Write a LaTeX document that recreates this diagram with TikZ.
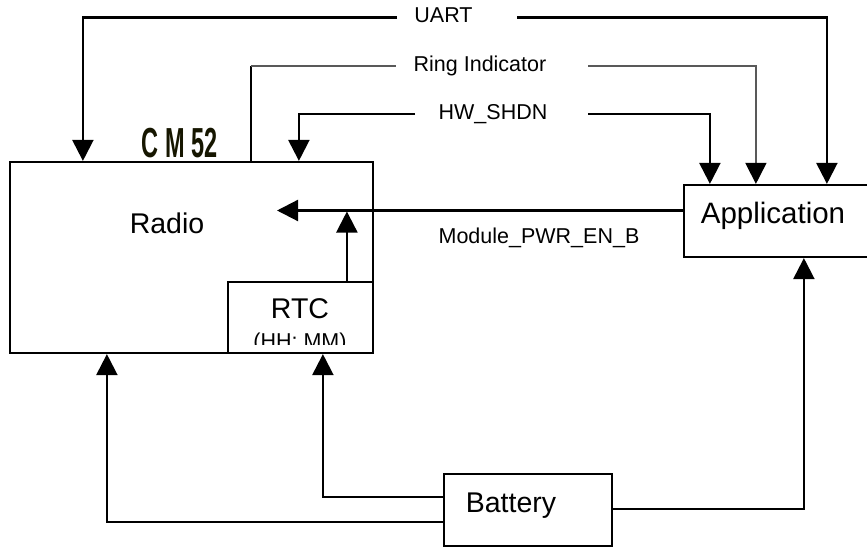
\documentclass[tikz,border=0pt]{standalone}
\usepackage{fontspec}
\setmainfont{Liberation Sans}
\usetikzlibrary{arrows.meta}
\tikzset{
  wire/.style={line width=2.2pt, draw=black},
  thinwire/.style={line width=1.6pt, draw=black!65},
  arr/.style={-{Triangle[length=21pt,width=21pt,black]}},
  blk/.style={draw, line width=2.2pt, rectangle, inner sep=0pt},
  big/.style={inner sep=0pt, font=\fontsize{28.5}{30}\selectfont},
  small/.style={inner sep=0pt, font=\fontsize{21.5}{24}\selectfont},
}
\definecolor{cmcol}{RGB}{22,22,0}
\begin{document}
\begin{tikzpicture}[x=1pt,y=-1pt]
\useasboundingbox (0,0) rectangle (867,548);
% blocks
\node[blk, minimum width=363pt, minimum height=191pt] (radio) at (191.5,257.5) {};
\node[blk, minimum width=145pt, minimum height=71pt] (rtc) at (300.5,317.5) {};
\node[blk, minimum width=188pt, minimum height=72pt] (app) at (778,221) {};
\node[blk, minimum width=168pt, minimum height=72pt] (battery) at (528,510) {};
% texts
\node[big, anchor=base] (radiotxt) at (167,233.5) {Radio};
\node[big, anchor=base] (rtctxt) at (300,318) {RTC};
\begin{scope}
  \clip (228,282) rectangle (373,344);
  \node[small, anchor=base] (rtcsub) at (300,348) {(HH: MM)};
\end{scope}
\node[big, anchor=base, font=\fontsize{29.5}{31}\selectfont] (apptxt) at (773,223) {Application};
\node[big, anchor=base] (battxt) at (511,512) {Battery};
\node[anchor=base, inner sep=0pt, text=cmcol, xscale=0.56,
      font=\fontsize{42}{44}\selectfont\bfseries] (cm52) at (179.5,158) {C M 52};
\node[small, anchor=base] (uart) at (443.5,23) {UART};
\node[small, anchor=base] (ring) at (480,72) {Ring Indicator};
\node[small, anchor=base] (hw) at (493,120) {HW\_SHDN};
\node[small, anchor=base] (pwr) at (539,243) {Module\_PWR\_EN\_B};
% gap end points of the labelled lines
\coordinate (uartL) at (397,17.5);
\coordinate (uartR) at (517,17.5);
\coordinate (ringL) at (396,66);
\coordinate (ringR) at (588,66);
\coordinate (hwL) at (415,114);
\coordinate (hwR) at (588,114);
\coordinate (pwrtip) at (277,210.5);
\coordinate (uartA) at ([xshift=74pt]radio.north west);
\coordinate (uartB) at ([xshift=144pt]app.north west);
\coordinate (ringA) at ([xshift=242pt]radio.north west);
\coordinate (ringB) at ([xshift=73pt]app.north west);
\coordinate (hwA) at ([xshift=290pt]radio.north west);
\coordinate (hwB) at ([xshift=27pt]app.north west);
% UART
\draw[wire, arr] (uartL) -| (uartA);
\draw[wire, arr] (uartR) -| (uartB);
% Ring indicator
\draw[wire] (ringA) -- (ringA |- ringL);
\draw[thinwire] (ringA |- ringL) -- (ringL);
\draw[thinwire, arr] (ringR) -| (ringB);
% HW_SHDN
\draw[wire, arr] (hwL) -| (hwA);
\draw[wire, arr] (hwR) -| (hwB);
% Module_PWR_EN_B
\draw[wire, arr] (app.west |- pwrtip) -- (pwrtip);
\coordinate (rtcup) at ([xshift=120pt]rtc.north west);
\draw[wire, arr] (rtcup) -- ([yshift=-1pt]rtcup |- pwrtip);
% Battery
\draw[wire, arr] ([yshift=13pt]battery.west) -| ([xshift=96pt]rtc.south west);
\draw[wire, arr] ([yshift=-12pt]battery.west) -| ([xshift=98pt]radio.south west);
\draw[wire, arr] ([yshift=1pt]battery.east) -| ([xshift=121pt]app.south west);
\end{tikzpicture}
\end{document}
